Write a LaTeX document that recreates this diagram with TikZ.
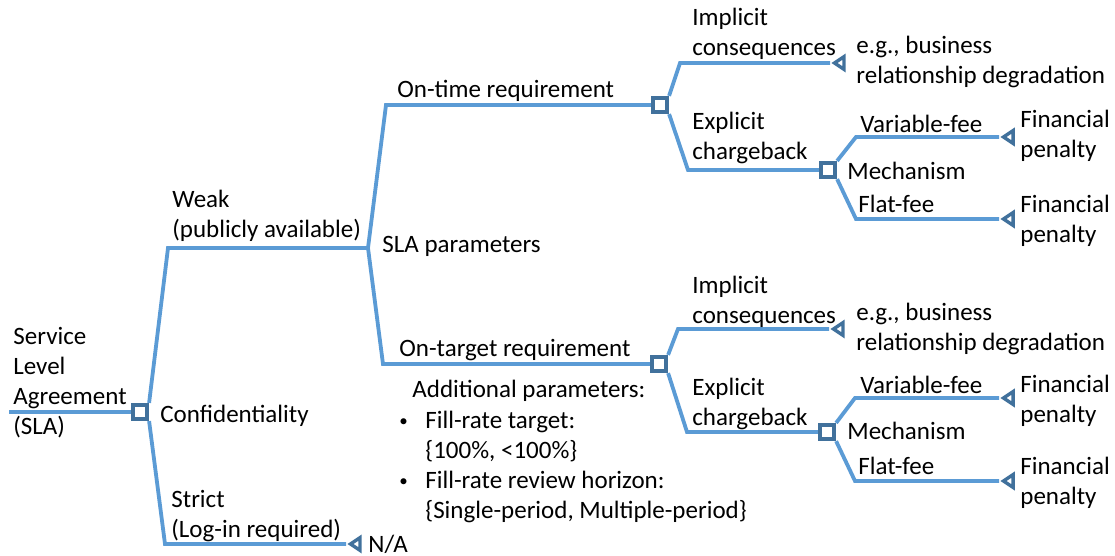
\documentclass[tikz,border=0pt]{standalone}
\usepackage{fontspec}
\setmainfont{Carlito}
\usetikzlibrary{shapes.geometric}
\definecolor{lineblue}{HTML}{5B9BD5}
\definecolor{darkblue}{HTML}{41719C}
\newcommand{\ml}[1]{\begin{tabular}[t]{@{}l@{}}#1\end{tabular}}
\newcommand{\smbul}{\raisebox{0.9pt}{\fontsize{8.5}{15}\selectfont\textbullet}}
\tikzset{
  branch/.style={draw=lineblue, line width=1.9pt, line join=miter},
  decbox/.style={rectangle, draw=darkblue, fill=white, line width=1.9pt, minimum size=7.2pt, inner sep=0pt},
  endtri/.style={isosceles triangle, isosceles triangle stretches=true, shape border rotate=180, draw=darkblue, fill=white, line width=1.7pt, minimum height=4.8pt, minimum width=6.4pt, inner sep=0pt, anchor=apex},
  lbl/.style={anchor=base west, inner sep=0pt, font=\fontsize{12.5}{15}\selectfont, text=black}
}
\begin{document}
\begin{tikzpicture}[x=0.5pt, y=-0.5pt]
\useasboundingbox (0,0) rectangle (1115,556);
% decision squares
\node[decbox] (root) at (140,412) {};
\node[decbox] (ontime) at (660,105) {};
\node[decbox] (chA) at (828,170) {};
\node[decbox] (ontarget) at (659,364) {};
\node[decbox] (chB) at (827,432) {};
% end triangles
\node[endtri] (na) at (346,544) {};
\node[endtri] (impA) at (830,63) {};
\node[endtri] (varA) at (999,137) {};
\node[endtri] (flatA) at (999,219) {};
\node[endtri] (impB) at (829,329) {};
\node[endtri] (varB) at (999,398) {};
\node[endtri] (flatB) at (999,481) {};
% bend coordinates
\coordinate (start) at (9,412);
\coordinate (weakbend) at (168,248);
\coordinate (junction) at (368,248);
\coordinate (strictbend) at (165,544);
\coordinate (otbend) at (386,105);
\coordinate (tgbend) at (383,364);
\coordinate (impAbend) at (680,63);
\coordinate (expAbend) at (688,170);
\coordinate (varAbend) at (856,137);
\coordinate (flatAbend) at (856,219);
\coordinate (impBbend) at (678,329);
\coordinate (expBbend) at (687,432);
\coordinate (varBbend) at (855,398);
\coordinate (flatBbend) at (855,481);
% connectors
\draw[branch] (start) -- (root.west);
\draw[branch] (root.north east) -- (weakbend) -- (junction);
\draw[branch] (root.south east) -- (strictbend) -- (na.apex);
\draw[branch] (junction) -- (otbend) -- (ontime.west);
\draw[branch] (junction) -- (tgbend) -- (ontarget.west);
\draw[branch] (ontime.north east) -- (impAbend) -- (impA.apex);
\draw[branch] (ontime.south east) -- (expAbend) -- (chA.west);
\draw[branch] (chA.north east) -- (varAbend) -- (varA.apex);
\draw[branch] (chA.south east) -- (flatAbend) -- (flatA.apex);
\draw[branch] (ontarget.north east) -- (impBbend) -- (impB.apex);
\draw[branch] (ontarget.south east) -- (expBbend) -- (chB.west);
\draw[branch] (chB.north east) -- (varBbend) -- (varB.apex);
\draw[branch] (chB.south east) -- (flatBbend) -- (flatB.apex);
% labels
\node[lbl] (tsla) at (13,344) {\ml{Service\\Level\\Agreement\\(SLA)}};
\node[lbl] (tconf) at (160,422) {Confidentiality};
\node[lbl] (tweak) at (172,207) {\ml{Weak\\(publicly available)}};
\node[lbl] (tstrict) at (171,507) {\ml{Strict\\(Log-in required)}};
\node[lbl] (tna) at (368,552) {N/A};
\node[lbl] (tparam) at (382,253) {SLA parameters};
\node[lbl] (tontime) at (397,98) {On-time requirement};
\node[lbl] (tontarget) at (399,357) {On-target requirement};
\node[lbl] (tadd) at (412,397) {Additional parameters:};
\node[lbl] (tbul) at (399,428) {\begin{tabular}[t]{@{}p{13pt}@{}l@{}}\smbul & Fill-rate target:\\ & \{100\%, <100\%\}\\ \smbul & Fill-rate review horizon:\\ & \{Single-period, Multiple-period\}\end{tabular}};
\node[lbl] (timpA) at (692,26) {\ml{Implicit\\consequences}};
\node[lbl] (timpB) at (692,293) {\ml{Implicit\\consequences}};
\node[lbl] (tegA) at (856,54) {\ml{e.g., business\\relationship degradation}};
\node[lbl] (tegB) at (856,321) {\ml{e.g., business\\relationship degradation}};
\node[lbl] (texpA) at (692,130) {\ml{Explicit\\chargeback}};
\node[lbl] (texpB) at (692,395) {\ml{Explicit\\chargeback}};
\node[lbl] (tvarA) at (860,133) {Variable-fee};
\node[lbl] (tvarB) at (860,393) {Variable-fee};
\node[lbl] (tmechA) at (847,180) {Mechanism};
\node[lbl] (tmechB) at (847,439) {Mechanism};
\node[lbl] (tflatA) at (858,213) {Flat-fee};
\node[lbl] (tflatB) at (858,474) {Flat-fee};
\node[lbl] (tfinA) at (1020,128) {\ml{Financial\\penalty}};
\node[lbl] (tfinB) at (1020,213) {\ml{Financial\\penalty}};
\node[lbl] (tfinC) at (1020,392) {\ml{Financial\\penalty}};
\node[lbl] (tfinD) at (1020,474) {\ml{Financial\\penalty}};
\end{tikzpicture}
\end{document}
